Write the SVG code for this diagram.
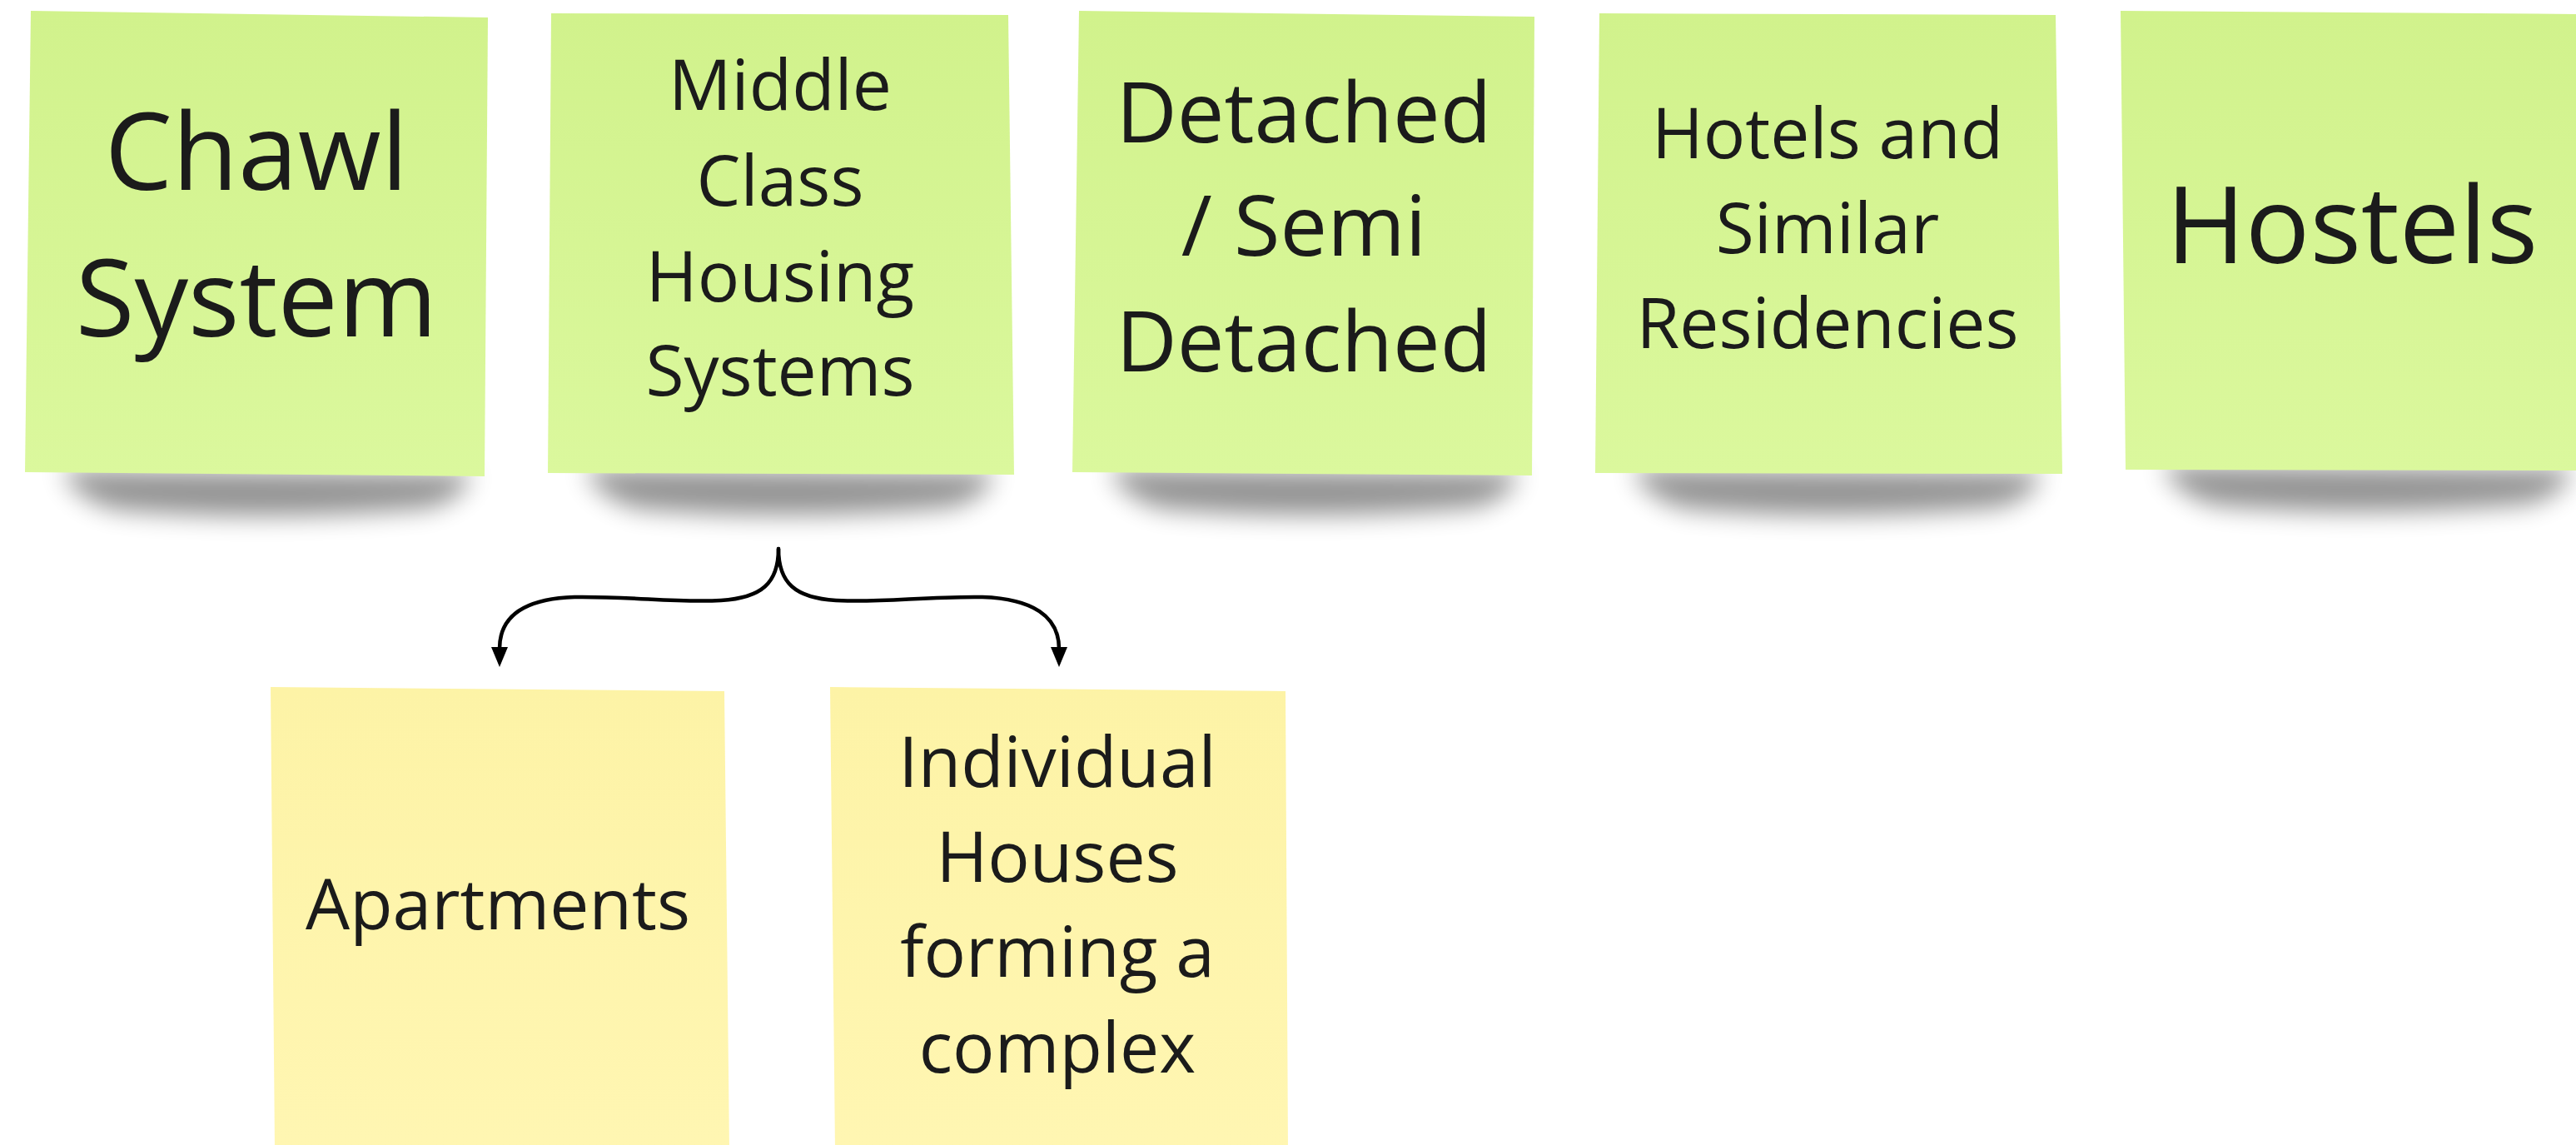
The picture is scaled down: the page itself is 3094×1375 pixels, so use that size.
<svg xmlns="http://www.w3.org/2000/svg" width="3094" height="1375" viewBox="0 0 3094 1375">
<style>
text{font-family:"Open Sans","Noto Sans","Liberation Sans",sans-serif;fill:#1b1b1b;text-anchor:middle}
.g{fill:url(#gg)}
.y{fill:url(#gy)}
.sh{fill:#000;opacity:.42;filter:url(#blur)}
.big{font-size:129px}
.mid{font-size:101px}
.sm{font-size:84px}
.conn{fill:none;stroke:#000;stroke-width:4.5;stroke-linecap:round}
</style>
<defs>
<linearGradient id="gg" x1="0" y1="0" x2="0" y2="1">
<stop offset="0" stop-color="#d1f28c"/>
<stop offset="1" stop-color="#dbf89d"/>
</linearGradient>
<linearGradient id="gy" x1="0" y1="0" x2="0" y2="1">
<stop offset="0" stop-color="#fdf3a6"/>
<stop offset="1" stop-color="#fff6b2"/>
</linearGradient>
<filter id="blur" x="-20%" y="-100%" width="140%" height="300%">
<feGaussianBlur stdDeviation="15"/>
</filter>
<path id="shadow" d="M45,-8 L535,-4 Q532,24 485,38 Q290,56 110,40 Q60,28 45,-8 Z"/>
<marker id="ah" viewBox="0 0 24 20" markerWidth="24" markerHeight="20" refX="2" refY="10" orient="auto" markerUnits="userSpaceOnUse">
<path d="M0,0 L24,10 L0,20 Z" fill="#000"/>
</marker>
</defs>
<rect width="3094" height="1375" fill="#ffffff"/>

<g id="chawl">
<use href="#shadow" class="sh" transform="translate(30,572)"/>
<polygon class="g" points="37,13 586,21 582,572 30,567"/>
<text class="big"><tspan x="308" y="228">Chawl</tspan><tspan x="308" y="404">System</tspan></text>
</g>

<g id="middle-class">
<use href="#shadow" class="sh" transform="translate(658,571)"/>
<polygon class="g" points="662,16 1211,18 1218,570 658,568"/>
<text class="sm"><tspan x="937" y="132">Middle</tspan><tspan x="937" y="247">Class</tspan><tspan x="937" y="362">Housing</tspan><tspan x="937" y="475">Systems</tspan></text>
</g>

<g id="detached">
<use href="#shadow" class="sh" transform="translate(1288,571)"/>
<polygon class="g" points="1296,13 1843,20 1840,571 1288,567"/>
<text class="mid"><tspan x="1566" y="171">Detached</tspan><tspan x="1566" y="307">/ Semi</tspan><tspan x="1566" y="446">Detached</tspan></text>
</g>

<g id="hotels">
<use href="#shadow" class="sh" transform="translate(1916,571)"/>
<polygon class="g" points="1921,16 2469,18 2477,569 1916,568"/>
<text class="sm"><tspan x="2195" y="190">Hotels and</tspan><tspan x="2195" y="304">Similar</tspan><tspan x="2195" y="418">Residencies</tspan></text>
</g>

<g id="hostels">
<use href="#shadow" class="sh" transform="translate(2553,567)"/>
<polygon class="g" points="2547,13 3110,17 3110,565 2553,564"/>
<text class="big"><tspan x="2825" y="316">Hostels</tspan></text>
</g>

<g id="apartments">
<polygon class="y" points="325,825 870,830 876,1380 330,1380"/>
<text class="sm"><tspan x="598" y="1116">Apartments</tspan></text>
</g>

<g id="individual-houses">
<polygon class="y" points="997,825 1544,830 1547,1380 1003,1380"/>
<text class="sm"><tspan x="1270" y="945">Individual</tspan><tspan x="1270" y="1059">Houses</tspan><tspan x="1270" y="1173">forming a</tspan><tspan x="1270" y="1288">complex</tspan></text>
</g>

<g id="connectors">
<path class="conn" marker-end="url(#ah)" d="M935,659 C935,700 915,718 866,721 C810,724 760,716 690,717 C630,719 600,740 600,779"/>
<path class="conn" marker-end="url(#ah)" d="M935,659 C935,700 955,718 1004,721 C1060,724 1110,716 1180,717 C1240,719 1272,740 1272,779"/>
</g>
</svg>
